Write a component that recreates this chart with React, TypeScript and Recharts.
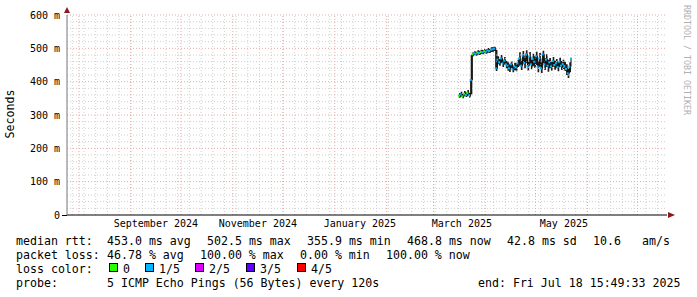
import React from 'react'
import { ComposedChart, Area, Line, Scatter, XAxis, YAxis, ReferenceLine } from 'recharts'

const DAY = 86400000
const rangeStart = Date.UTC(2024, 6, 24, 20)
const rangeEnd = Date.UTC(2025, 6, 18, 15, 49, 33)
// one sample per day, first one mid March
const firstSample = Date.UTC(2025, 2, 16, 6)

// median rtt in ms
const medianMs = [
  358, 362, 356, 364, 360, 366, 359, 405,
  482, 485, 484, 487, 486, 489, 488, 491, 490, 494, 492, 496, 497, 499,
  440,
  466, 458, 470, 455, 463, 452,
  448, 440, 452, 437, 446, 443, 455,
  470, 448, 478, 456, 482, 447, 475, 452, 468, 460,
  476, 445, 470, 440, 482, 452, 466, 448,
  458, 446, 462, 450, 455, 444, 460, 448, 453, 447,
  438, 425, 445, 469,
]
// smoke: fastest / slowest ping in ms
const lowMs = [
  352, 355, 350, 356, 354, 357, 352, 362,
  476, 479, 478, 481, 480, 483, 482, 485, 484, 487, 486, 489, 490, 492,
  432,
  452, 448, 456, 444, 451, 440,
  433, 429, 440, 428, 434, 431, 444,
  448, 435, 452, 440, 455, 433, 450, 437, 446, 441,
  450, 428, 446, 426, 455, 435, 444, 430,
  440, 433, 445, 436, 440, 431, 444, 435, 438, 432,
  420, 411, 428, 452,
]
const highMs = [
  366, 370, 363, 372, 368, 375, 367, 480,
  488, 491, 490, 494, 493, 496, 495, 498, 497, 501, 499, 503, 504, 505,
  495,
  476, 468, 480, 466, 474, 462,
  458, 452, 462, 448, 457, 455, 466,
  488, 462, 492, 470, 494, 460, 489, 466, 484, 476,
  490, 462, 486, 458, 493, 470, 482, 466,
  471, 460, 474, 463, 468, 458, 472, 462, 466, 460,
  452, 440, 458, 478,
]
// lost pings out of 5
const lossLevel = [
  0, 1, 0, 0, 1, 0, 1, 1,
  0, 1, 1, 0, 1, 0, 1, 0, 1, 1, 1, 1, 1, 1,
  1,
  1, 1, 1, 1, 1, 1,
  1, 1, 1, 1, 1, 1, 1,
  1, 1, 1, 1, 1, 1, 1, 1, 1, 1,
  1, 1, 1, 1, 1, 1, 1, 1,
  1, 1, 1, 1, 1, 1, 1, 1, 1, 1,
  1, 1, 1, 1,
]

const lossLabels = ['0', '1/5', '2/5', '3/5', '4/5']
const lossColors = ['#26ff00', '#00b8ff', '#dd00ff', '#5e00ff', '#ff0000']

const yMajor = [100, 200, 300, 400, 500, 600]
const yMinor = [20, 40, 60, 80, 120, 140, 160, 180, 220, 240, 260, 280, 320, 340, 360, 380,
  420, 440, 460, 480, 520, 540, 560, 580]
const yTicks = [0, 100, 200, 300, 400, 500, 600]

const monthStarts = ['2024-08-01', '2024-09-01', '2024-10-01', '2024-11-01', '2024-12-01',
  '2025-01-01', '2025-02-01', '2025-03-01', '2025-04-01', '2025-05-01', '2025-06-01', '2025-07-01']
const monthLabels = [
  ['2024-09-16', 'September 2024'],
  ['2024-11-16', 'November 2024'],
  ['2025-01-16', 'January 2025'],
  ['2025-03-18', 'March 2025'],
  ['2025-05-18', 'May 2025'],
]
const firstWeek = '2024-07-28'

const statLines = [
  [[16, 'median rtt:'], [107, '453.0 ms avg'], [207, '502.5 ms max'], [307, '355.9 ms min'],
    [407, '468.8 ms now'], [507, '42.8 ms sd'], [593, '10.6'], [642, 'am/s']],
  [[16, 'packet loss:'], [107, '46.78 % avg'], [200, '100.00 % max'], [300, '0.00 % min'],
    [386, '100.00 % now']],
  [[16, 'loss color:']],
  [[16, 'probe:'], [107, '5 ICMP Echo Pings (56 Bytes) every 120s'], [478, 'end: Fri Jul 18 15:49:33 2025']],
]
const legendX = [109, 145, 195, 246, 297]

const data = medianMs.map((m, i) => ({
  t: firstSample + i * DAY,
  med: m,
  band: [lowMs[i], highMs[i]],
  loss: lossLevel[i],
}))

const weekLines: number[] = []
for (let t = Date.parse(firstWeek); t < rangeEnd; t += 7 * DAY) weekLines.push(t)

const labelMap: Record<number, string> = {}
monthLabels.forEach(([d, l]) => (labelMap[Date.parse(d)] = l))

const MONO = "'DejaVu Sans Mono', monospace"
const minorGrid = '#cfcfcf'
const majorGrid = '#eaa8a8'

const MedianMark = (props: any) => {
  const { cx, cy, payload } = props
  if (cx == null || cy == null) return null
  return <rect x={cx - 1} y={cy - 1} width={2} height={2} fill={lossColors[payload.loss]} />
}

export default function App() {
  return (
    <div style={{ position: 'relative', width: 697, height: 297, background: '#fff' }}>
      <style>{'body{margin:0}'}</style>
      <ComposedChart
        width={697}
        height={232}
        data={data}
        margin={{ top: 15, right: 30, bottom: 0, left: 0 }}
      >
        <XAxis
          dataKey="t"
          type="number"
          domain={[rangeStart, rangeEnd]}
          allowDataOverflow
          ticks={Object.keys(labelMap).map(Number)}
          tickFormatter={(v: number) => labelMap[v] || ''}
          tickLine={false}
          tickSize={0}
          tickMargin={5}
          height={17}
          axisLine={{ stroke: '#000' }}
          tick={{ fontFamily: MONO, fontSize: 10, fill: '#000' }}
          interval={0}
        />
        <YAxis
          type="number"
          domain={[0, 600]}
          ticks={yTicks}
          width={67}
          tickLine={false}
          tickSize={0}
          tickMargin={7}
          axisLine={{ stroke: '#777' }}
          tickFormatter={(v: number) => (v === 0 ? '0' : `${v} m`)}
          tick={{ fontFamily: MONO, fontSize: 10, fill: '#000' }}
          interval={0}
        />
        {yMinor.map((v) => (
          <ReferenceLine key={'ym' + v} y={v} stroke={minorGrid} strokeDasharray="1 2" />
        ))}
        {weekLines.map((t) => (
          <ReferenceLine key={'xw' + t} x={t} stroke={minorGrid} strokeDasharray="1 2" />
        ))}
        {yMajor.map((v) => (
          <ReferenceLine key={'yM' + v} y={v} stroke={majorGrid} strokeDasharray="1 2" />
        ))}
        {monthStarts.map((d) => (
          <ReferenceLine key={'xM' + d} x={Date.parse(d)} stroke={majorGrid} strokeDasharray="1 2" />
        ))}
        <Area
          dataKey="band"
          type="stepAfter"
          fill="#1c1c1c"
          fillOpacity={1}
          stroke="none"
          isAnimationActive={false}
        />
        <Line
          dataKey="med"
          type="stepAfter"
          stroke="#111"
          strokeWidth={1}
          dot={false}
          isAnimationActive={false}
        />
        <Scatter dataKey="med" shape={MedianMark} isAnimationActive={false} />
      </ComposedChart>

      <svg
        width={697}
        height={297}
        style={{ position: 'absolute', left: 0, top: 0, pointerEvents: 'none' }}
      >
        <line x1={62} y1={215.5} x2={67} y2={215.5} stroke="#000" />
        <polygon points="64,13 70,13 67,7" fill="#8b1a1a" />
        <polygon points="668,212 668,218 675,215" fill="#8b1a1a" />
        <text
          x={14}
          y={114}
          transform="rotate(-90 14 114)"
          textAnchor="middle"
          fontFamily={MONO}
          fontSize={11.6}
          fill="#000"
        >
          Seconds
        </text>
        <text
          x={684}
          y={60}
          transform="rotate(90 684 60)"
          textAnchor="middle"
          fontFamily={MONO}
          fontSize={8.3}
          fill="#b0b0b0"
        >
          RRDTOOL / TOBI OETIKER
        </text>
        {statLines.map((line, row) =>
          line.map(([x, s]) => (
            <text
              key={row + '-' + x}
              x={x as number}
              y={245 + row * 14}
              fontFamily={MONO}
              fontSize={11.6}
              fill="#000"
              style={{ whiteSpace: 'pre' }}
            >
              {s}
            </text>
          ))
        )}
        {lossLabels.map((l, i) => (
          <g key={l}>
            <rect
              x={legendX[i] + 0.5}
              y={263.5}
              width={8}
              height={8}
              fill={lossColors[i]}
              stroke="#000"
              strokeWidth={1}
            />
            <text x={legendX[i] + 14} y={273} fontFamily={MONO} fontSize={11.6} fill="#000">
              {l}
            </text>
          </g>
        ))}
      </svg>
    </div>
  )
}
